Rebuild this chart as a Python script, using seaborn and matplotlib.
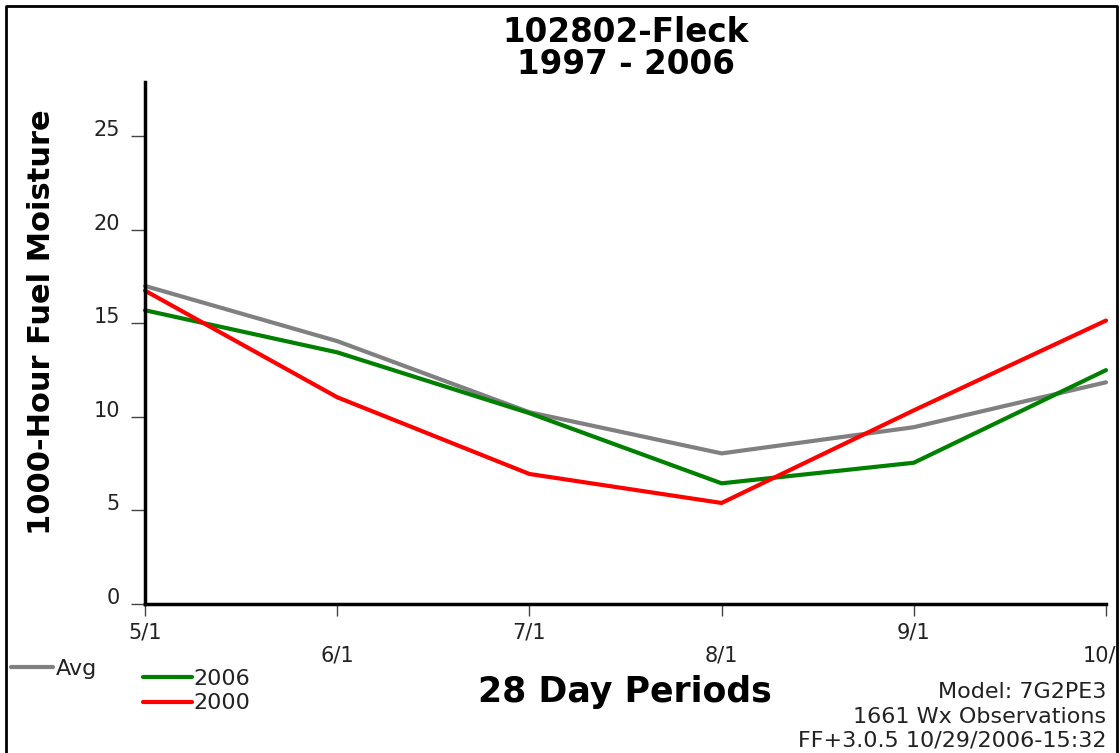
import matplotlib
matplotlib.use("Agg")
import matplotlib.pyplot as plt
from matplotlib.lines import Line2D
from matplotlib.transforms import Bbox, TransformedBbox
import seaborn as sns
import pandas as pd

# ---- data ----
periods = ["5/1", "6/1", "7/1", "8/1", "9/1", "10/1"]
avg_vals = [17.0, 14.05, 10.25, 8.05, 9.45, 11.85]
y2006_vals = [15.7, 13.45, 10.2, 6.45, 7.55, 12.5]
y2000_vals = [16.75, 11.05, 6.95, 5.4, 10.35, 15.15]
series_names = ["Avg", "2006", "2000"]
series_colors = ["#808080", "#008000", "#ff0000"]
y_ticks = [0, 5, 10, 15, 20, 25]

title_line1 = "102802-Fleck"
title_line2 = "1997 - 2006"
y_label = "1000-Hour Fuel Moisture"
x_label = "28 Day Periods"
footer_lines = ["Model: 7G2PE3", "1661 Wx Observations", "FF+3.0.5 10/29/2006-15:32"]

rows = []
for name, vals in zip(series_names, [avg_vals, y2006_vals, y2000_vals]):
    for i, (p, v) in enumerate(zip(periods, vals)):
        rows.append({"pos": i, "period": p, "value": v, "series": name})
df = pd.DataFrame(rows)

sns.set_theme(style="white")
plt.rcParams["font.family"] = ["DejaVu Sans"]

W, H = 1120, 753
fig = plt.figure(figsize=(W / 100, H / 100), dpi=100)
fig.patch.set_facecolor("white")

def fx(px):
    return px / W

def fy(py):
    return 1 - py / H

ax = fig.add_axes([fx(145), fy(604), fx(1106) - fx(145), fy(82) - fy(604)])
ax.set_facecolor("white")

sns.lineplot(data=df, x="pos", y="value", hue="series", hue_order=series_names,
             palette=dict(zip(series_names, series_colors)), linewidth=3,
             legend=False, ax=ax, sort=False)
for ln in ax.get_lines():
    ln.set_clip_on(False)
    ln.set_solid_joinstyle("round")
    ln.set_solid_capstyle("round")

ax.set_xlim(0, len(periods) - 1)
ax.set_ylim(0, 27.9)
ax.set_xlabel("")
ax.set_ylabel("")

for s in ["top", "right"]:
    ax.spines[s].set_visible(False)
for s in ["left", "bottom"]:
    ax.spines[s].set_color("black")
    ax.spines[s].set_linewidth(2.5)

ax.set_yticks(y_ticks)
ax.set_yticklabels([str(t) for t in y_ticks])
ax.set_xticks(range(len(periods)))
ax.set_xticklabels([p if i % 2 == 0 else "\n" + p for i, p in enumerate(periods)],
                   linespacing=1.15)

ax.tick_params(axis="y", direction="out", length=10, width=1, color="#444444",
               pad=8, labelsize=15, labelcolor="#222222", left=True)
ax.tick_params(axis="x", direction="out", length=8.5, width=1, color="#444444",
               pad=5, labelsize=15, labelcolor="#222222", bottom=True)
for lab in ax.get_yticklabels():
    lab.set_verticalalignment("baseline")

# clip the last x label at the figure border (as in the reference)
clipbox = TransformedBbox(Bbox([[0, 0], [fx(1116), 1]]), fig.transFigure)
last = ax.get_xticklabels()[-1]
last.set_clip_box(clipbox)
last.set_clip_on(True)

# titles and labels
fig.text(fx(626), fy(32), title_line1, ha="center", va="center",
         fontsize=23.5, fontweight="bold", color="black")
fig.text(fx(626), fy(65), title_line2, ha="center", va="center",
         fontsize=23.5, fontweight="bold", color="black")
fig.text(fx(42), fy(322), y_label, ha="center", va="center", rotation=90,
         fontsize=22, fontweight="bold", color="black")
fig.text(fx(625), fy(692), x_label, ha="center", va="center",
         fontsize=25, fontweight="bold", color="black")

for txt, yy in zip(footer_lines, [692, 717, 741]):
    fig.text(fx(1106), fy(yy), txt, ha="right", va="center", fontsize=16,
             color="#222222")

# legends
h_avg = Line2D([], [], color=series_colors[0], lw=3)
h_06 = Line2D([], [], color=series_colors[1], lw=3)
h_00 = Line2D([], [], color=series_colors[2], lw=3)
leg1 = fig.legend([h_avg], [series_names[0]], loc="center left",
                  bbox_to_anchor=(fx(11), fy(669)), frameon=False, fontsize=16,
                  handlelength=1.9, handletextpad=0.1, borderpad=0, borderaxespad=0,
                  labelcolor="#222222")
leg2 = fig.legend([h_06, h_00], [series_names[1], series_names[2]], loc="upper left",
                  bbox_to_anchor=(fx(143), fy(669)), frameon=False, fontsize=16,
                  handlelength=2.2, handletextpad=0.05, borderpad=0, borderaxespad=0,
                  labelspacing=0.2, labelcolor="#222222")

# figure border
fig.add_artist(Line2D([fx(6), fx(6), fx(1117), fx(1117)], [0, fy(6), fy(6), 0],
                      transform=fig.transFigure, color="black", lw=2))

fig.savefig("out.png", dpi=100, facecolor="white")
